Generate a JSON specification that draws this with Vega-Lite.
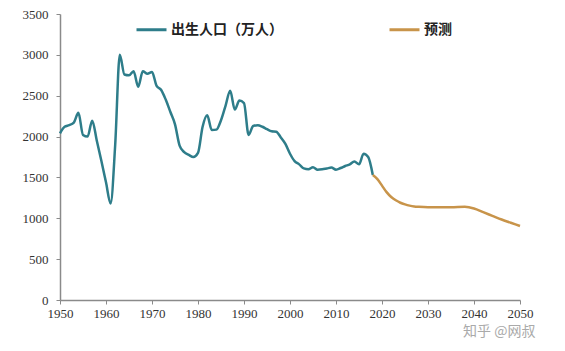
{
  "$schema": "https://vega.github.io/schema/vega-lite/v6.json",
  "width": 460,
  "height": 286,
  "autosize": {"type": "none"},
  "padding": {"left": 60, "top": 14, "right": 45, "bottom": 51},
  "background": "white",
  "config": {"view": {"stroke": null}},
  "datasets": {
    "births": [
      {"year": 1950, "value": 2040, "series": "出生人口（万人）"},
      {"year": 1951, "value": 2120, "series": "出生人口（万人）"},
      {"year": 1952, "value": 2140, "series": "出生人口（万人）"},
      {"year": 1953, "value": 2170, "series": "出生人口（万人）"},
      {"year": 1954, "value": 2290, "series": "出生人口（万人）"},
      {"year": 1955, "value": 2020, "series": "出生人口（万人）"},
      {"year": 1956, "value": 2000, "series": "出生人口（万人）"},
      {"year": 1957, "value": 2195, "series": "出生人口（万人）"},
      {"year": 1958, "value": 1950, "series": "出生人口（万人）"},
      {"year": 1959, "value": 1700, "series": "出生人口（万人）"},
      {"year": 1960, "value": 1440, "series": "出生人口（万人）"},
      {"year": 1961, "value": 1180, "series": "出生人口（万人）"},
      {"year": 1962, "value": 1900, "series": "出生人口（万人）"},
      {"year": 1963, "value": 3000, "series": "出生人口（万人）"},
      {"year": 1964, "value": 2760, "series": "出生人口（万人）"},
      {"year": 1965, "value": 2750, "series": "出生人口（万人）"},
      {"year": 1966, "value": 2800, "series": "出生人口（万人）"},
      {"year": 1967, "value": 2610, "series": "出生人口（万人）"},
      {"year": 1968, "value": 2800, "series": "出生人口（万人）"},
      {"year": 1969, "value": 2770, "series": "出生人口（万人）"},
      {"year": 1970, "value": 2790, "series": "出生人口（万人）"},
      {"year": 1971, "value": 2620, "series": "出生人口（万人）"},
      {"year": 1972, "value": 2570, "series": "出生人口（万人）"},
      {"year": 1973, "value": 2450, "series": "出生人口（万人）"},
      {"year": 1974, "value": 2300, "series": "出生人口（万人）"},
      {"year": 1975, "value": 2150, "series": "出生人口（万人）"},
      {"year": 1976, "value": 1890, "series": "出生人口（万人）"},
      {"year": 1977, "value": 1810, "series": "出生人口（万人）"},
      {"year": 1978, "value": 1775, "series": "出生人口（万人）"},
      {"year": 1979, "value": 1750, "series": "出生人口（万人）"},
      {"year": 1980, "value": 1800, "series": "出生人口（万人）"},
      {"year": 1981, "value": 2120, "series": "出生人口（万人）"},
      {"year": 1982, "value": 2260, "series": "出生人口（万人）"},
      {"year": 1983, "value": 2080, "series": "出生人口（万人）"},
      {"year": 1984, "value": 2085, "series": "出生人口（万人）"},
      {"year": 1985, "value": 2200, "series": "出生人口（万人）"},
      {"year": 1986, "value": 2380, "series": "出生人口（万人）"},
      {"year": 1987, "value": 2560, "series": "出生人口（万人）"},
      {"year": 1988, "value": 2330, "series": "出生人口（万人）"},
      {"year": 1989, "value": 2440, "series": "出生人口（万人）"},
      {"year": 1990, "value": 2410, "series": "出生人口（万人）"},
      {"year": 1991, "value": 2020, "series": "出生人口（万人）"},
      {"year": 1992, "value": 2130, "series": "出生人口（万人）"},
      {"year": 1993, "value": 2140, "series": "出生人口（万人）"},
      {"year": 1994, "value": 2120, "series": "出生人口（万人）"},
      {"year": 1995, "value": 2090, "series": "出生人口（万人）"},
      {"year": 1996, "value": 2065, "series": "出生人口（万人）"},
      {"year": 1997, "value": 2060, "series": "出生人口（万人）"},
      {"year": 1998, "value": 1990, "series": "出生人口（万人）"},
      {"year": 1999, "value": 1910, "series": "出生人口（万人）"},
      {"year": 2000, "value": 1790, "series": "出生人口（万人）"},
      {"year": 2001, "value": 1700, "series": "出生人口（万人）"},
      {"year": 2002, "value": 1660, "series": "出生人口（万人）"},
      {"year": 2003, "value": 1610, "series": "出生人口（万人）"},
      {"year": 2004, "value": 1600, "series": "出生人口（万人）"},
      {"year": 2005, "value": 1625, "series": "出生人口（万人）"},
      {"year": 2006, "value": 1595, "series": "出生人口（万人）"},
      {"year": 2007, "value": 1600, "series": "出生人口（万人）"},
      {"year": 2008, "value": 1610, "series": "出生人口（万人）"},
      {"year": 2009, "value": 1620, "series": "出生人口（万人）"},
      {"year": 2010, "value": 1595, "series": "出生人口（万人）"},
      {"year": 2011, "value": 1615, "series": "出生人口（万人）"},
      {"year": 2012, "value": 1640, "series": "出生人口（万人）"},
      {"year": 2013, "value": 1660, "series": "出生人口（万人）"},
      {"year": 2014, "value": 1695, "series": "出生人口（万人）"},
      {"year": 2015, "value": 1660, "series": "出生人口（万人）"},
      {"year": 2016, "value": 1790, "series": "出生人口（万人）"},
      {"year": 2017, "value": 1750, "series": "出生人口（万人）"},
      {"year": 2018, "value": 1530, "series": "出生人口（万人）"},
      {"year": 2018, "value": 1530, "series": "预测"},
      {"year": 2019, "value": 1480, "series": "预测"},
      {"year": 2020, "value": 1400, "series": "预测"},
      {"year": 2021, "value": 1320, "series": "预测"},
      {"year": 2022, "value": 1260, "series": "预测"},
      {"year": 2023, "value": 1220, "series": "预测"},
      {"year": 2024, "value": 1190, "series": "预测"},
      {"year": 2025, "value": 1170, "series": "预测"},
      {"year": 2026, "value": 1155, "series": "预测"},
      {"year": 2027, "value": 1145, "series": "预测"},
      {"year": 2028, "value": 1140, "series": "预测"},
      {"year": 2030, "value": 1135, "series": "预测"},
      {"year": 2035, "value": 1135, "series": "预测"},
      {"year": 2038, "value": 1140, "series": "预测"},
      {"year": 2040, "value": 1120, "series": "预测"},
      {"year": 2042, "value": 1075, "series": "预测"},
      {"year": 2044, "value": 1030, "series": "预测"},
      {"year": 2046, "value": 985, "series": "预测"},
      {"year": 2048, "value": 945, "series": "预测"},
      {"year": 2050, "value": 905, "series": "预测"}
    ],
    "mark": [
      {"year": 2045.5, "value": -390, "label": "知乎 @网叔"}
    ]
  },
  "layer": [
    {
      "data": {"name": "births"},
      "mark": {"type": "line", "interpolate": "monotone", "strokeWidth": 2.5},
      "encoding": {
        "x": {
          "field": "year", "type": "quantitative",
          "scale": {"domain": [1950, 2050], "nice": false, "zero": false},
          "axis": {
            "title": null, "values": [1950, 1960, 1970, 1980, 1990, 2000, 2010, 2020, 2030, 2040, 2050],
            "format": "d", "grid": false, "labelFont": "Liberation Serif", "labelFontSize": 13,
            "labelColor": "#333", "domainColor": "#8a8a8a", "tickColor": "#8a8a8a",
            "tickSize": 4, "labelPadding": 3, "domainWidth": 1.5, "labelFlush": false
          }
        },
        "y": {
          "field": "value", "type": "quantitative",
          "scale": {"domain": [0, 3500], "nice": false},
          "axis": {
            "title": null, "values": [0, 500, 1000, 1500, 2000, 2500, 3000, 3500],
            "format": "d", "grid": false, "labelFont": "Liberation Serif", "labelFontSize": 13,
            "labelColor": "#333", "domainColor": "#8a8a8a", "tickColor": "#8a8a8a",
            "tickSize": 4, "labelPadding": 8, "domainWidth": 1.5, "labelFlush": false
          }
        },
        "color": {
          "field": "series", "type": "nominal",
          "scale": {"domain": ["出生人口（万人）", "预测"], "range": ["#2e7d8a", "#c8944a"]},
          "legend": {
            "title": null, "orient": "none", "direction": "horizontal",
            "legendX": 75, "legendY": -1,
            "symbolType": "stroke", "symbolSize": 900, "symbolStrokeWidth": 3,
            "labelFont": "Noto Sans CJK SC", "labelFontSize": 14, "labelFontWeight": "bold",
            "labelColor": "#222", "labelOffset": 3, "columnPadding": 100, "labelLimit": 200
          }
        }
      }
    },
    {
      "data": {"name": "mark"},
      "mark": {"type": "text", "fontSize": 14, "color": "#aaaaaa", "font": "Noto Sans CJK SC"},
      "encoding": {
        "x": {"field": "year", "type": "quantitative"},
        "y": {"field": "value", "type": "quantitative"},
        "text": {"field": "label"}
      }
    }
  ]
}
